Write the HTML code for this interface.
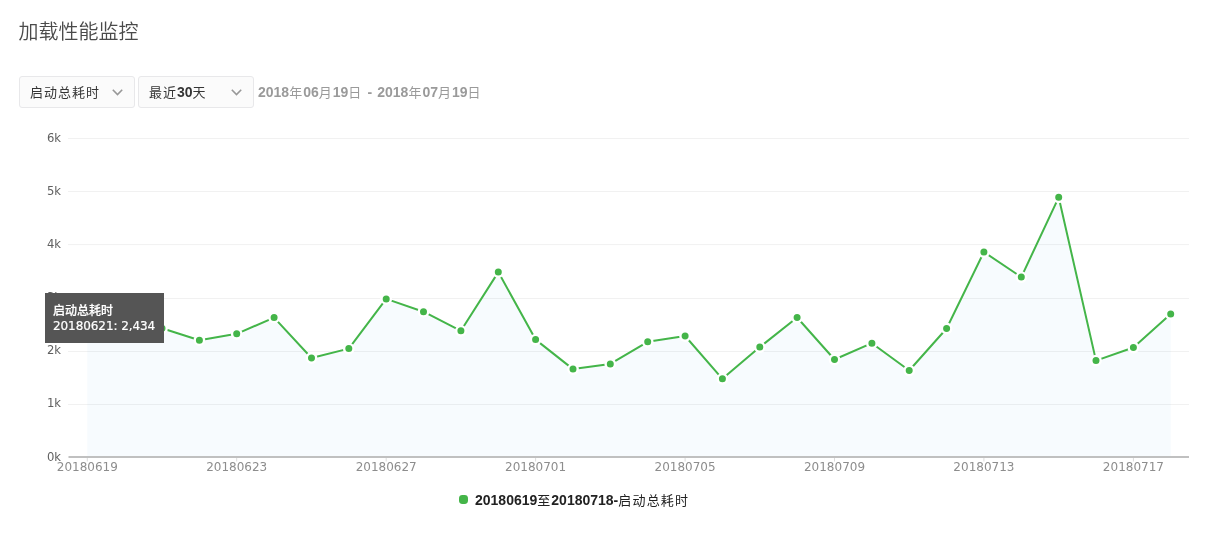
<!DOCTYPE html>
<html lang="zh-CN"><head><meta charset="utf-8"><title>加载性能监控</title>
<style>
html,body{margin:0;padding:0;background:#fff;}
body{width:1220px;height:544px;position:relative;overflow:hidden;font-family:"Liberation Sans","Noto Sans CJK SC",sans-serif;color:#353535;}
h2{position:absolute;left:18.5px;top:16.7px;letter-spacing:0.2px;margin:0;font-size:20px;line-height:30px;font-weight:350;color:#4a4a4a;letter-spacing:0;white-space:nowrap;}
.dd{position:absolute;top:76px;height:30px;width:113.5px;border:1px solid #e8e8ea;border-radius:3px;background:#fbfbfb;font-size:14px;line-height:30px;color:#353535;white-space:nowrap;}
.dd span{position:absolute;left:10px;top:0;}
.dd b{font-weight:700;}
.dd i{font-style:normal;font-size:13px;letter-spacing:1px;}
.dd svg{position:absolute;right:10.4px;top:12.2px;}
.date{position:absolute;left:258px;word-spacing:1.2px;top:77px;font-size:14px;line-height:30px;color:#9a9a9a;white-space:nowrap;}
.date b{font-weight:700;}
.date i,.legend i{font-style:normal;font-size:13px;letter-spacing:1px;}
svg text{font-family:"DejaVu Sans","Noto Sans CJK SC",sans-serif;}
.tip{position:absolute;left:45px;top:293px;width:119px;height:49.5px;background:#555;color:#fff;font-family:"DejaVu Sans","Noto Sans CJK SC",sans-serif;font-size:12px;line-height:17px;white-space:nowrap;}
.tip div{position:absolute;left:8px;-webkit-text-stroke:0.2px #fff;}
.legend{position:absolute;left:475px;top:490px;font-size:14px;line-height:20px;color:#222;white-space:nowrap;}
.legend b{font-weight:700;}
.ldot{position:absolute;left:459.4px;top:495.3px;width:8.8px;height:8.8px;border-radius:3.4px;background:#44b549;}
</style></head><body>
<h2>加载性能监控</h2>
<div class="dd" style="left:19px"><span><i>启动总耗时</i></span><svg width="11" height="7" viewBox="0 0 11 7"><path d="M0.8 0.8 L5.5 5.6 L10.2 0.8" fill="none" stroke="#989898" stroke-width="1.6"/></svg></div>
<div class="dd" style="left:138px"><span><i>最近</i><b>30</b><i>天</i></span><svg width="11" height="7" viewBox="0 0 11 7"><path d="M0.8 0.8 L5.5 5.6 L10.2 0.8" fill="none" stroke="#989898" stroke-width="1.6"/></svg></div>
<div class="date"><b>2018</b><i>年</i><b>06</b><i>月</i><b>19</b><i>日</i> <b>-</b> <b>2018</b><i>年</i><b>07</b><i>月</i><b>19</b><i>日</i></div>
<svg width="1220" height="544" viewBox="0 0 1220 544" style="position:absolute;left:0;top:0">
<g stroke="#f1f1f1" stroke-width="1"><line x1="68" x2="1189" y1="138.5" y2="138.5"/><line x1="68" x2="1189" y1="191.5" y2="191.5"/><line x1="68" x2="1189" y1="244.6" y2="244.6"/><line x1="68" x2="1189" y1="298.5" y2="298.5"/><line x1="68" x2="1189" y1="351.5" y2="351.5"/><line x1="68" x2="1189" y1="404.5" y2="404.5"/></g>
<path d="M87.3,457 L87.3,322 L124.7,318 L162.0,328.3 L199.4,340.2 L236.7,333.8 L274.1,317.6 L311.5,358 L348.8,348.6 L386.2,298.9 L423.5,311.7 L460.9,330.8 L498.3,272.1 L535.6,339.6 L573.0,369.1 L610.3,363.9 L647.7,341.8 L685.1,336.0 L722.4,378.8 L759.8,347.1 L797.1,317.5 L834.5,359.5 L871.9,343.2 L909.2,370.5 L946.6,328.5 L983.9,252.0 L1021.3,277.1 L1058.7,197.3 L1096.0,360.6 L1133.4,347.5 L1170.7,314.1 L1170.7,457 Z" fill="#7cb5ec" fill-opacity="0.06"/>
<rect x="68.5" y="456" width="1120.5" height="2" fill="#c0c0c0"/>
<g stroke="#dcdcdc" stroke-width="1"><line x1="87.3" x2="87.3" y1="458" y2="461.5"/><line x1="236.7" x2="236.7" y1="458" y2="461.5"/><line x1="386.2" x2="386.2" y1="458" y2="461.5"/><line x1="535.6" x2="535.6" y1="458" y2="461.5"/><line x1="685.1" x2="685.1" y1="458" y2="461.5"/><line x1="834.5" x2="834.5" y1="458" y2="461.5"/><line x1="983.9" x2="983.9" y1="458" y2="461.5"/><line x1="1133.4" x2="1133.4" y1="458" y2="461.5"/></g>
<polyline points="87.3,322 124.7,318 162.0,328.3 199.4,340.2 236.7,333.8 274.1,317.6 311.5,358 348.8,348.6 386.2,298.9 423.5,311.7 460.9,330.8 498.3,272.1 535.6,339.6 573.0,369.1 610.3,363.9 647.7,341.8 685.1,336.0 722.4,378.8 759.8,347.1 797.1,317.5 834.5,359.5 871.9,343.2 909.2,370.5 946.6,328.5 983.9,252.0 1021.3,277.1 1058.7,197.3 1096.0,360.6 1133.4,347.5 1170.7,314.1" fill="none" stroke="#44b549" stroke-width="2" stroke-linejoin="round" stroke-linecap="round"/>
<g fill="#44b549" stroke="#fff" stroke-width="2.4"><circle cx="87.3" cy="322" r="4.7"/><circle cx="124.7" cy="318" r="4.7"/><circle cx="162.0" cy="328.3" r="4.7"/><circle cx="199.4" cy="340.2" r="4.7"/><circle cx="236.7" cy="333.8" r="4.7"/><circle cx="274.1" cy="317.6" r="4.7"/><circle cx="311.5" cy="358" r="4.7"/><circle cx="348.8" cy="348.6" r="4.7"/><circle cx="386.2" cy="298.9" r="4.7"/><circle cx="423.5" cy="311.7" r="4.7"/><circle cx="460.9" cy="330.8" r="4.7"/><circle cx="498.3" cy="272.1" r="4.7"/><circle cx="535.6" cy="339.6" r="4.7"/><circle cx="573.0" cy="369.1" r="4.7"/><circle cx="610.3" cy="363.9" r="4.7"/><circle cx="647.7" cy="341.8" r="4.7"/><circle cx="685.1" cy="336.0" r="4.7"/><circle cx="722.4" cy="378.8" r="4.7"/><circle cx="759.8" cy="347.1" r="4.7"/><circle cx="797.1" cy="317.5" r="4.7"/><circle cx="834.5" cy="359.5" r="4.7"/><circle cx="871.9" cy="343.2" r="4.7"/><circle cx="909.2" cy="370.5" r="4.7"/><circle cx="946.6" cy="328.5" r="4.7"/><circle cx="983.9" cy="252.0" r="4.7"/><circle cx="1021.3" cy="277.1" r="4.7"/><circle cx="1058.7" cy="197.3" r="4.7"/><circle cx="1096.0" cy="360.6" r="4.7"/><circle cx="1133.4" cy="347.5" r="4.7"/><circle cx="1170.7" cy="314.1" r="4.7"/></g>
<g font-size="11.6" fill="#606060" text-anchor="end"><text x="61" y="141.9">6k</text><text x="61" y="194.9">5k</text><text x="61" y="248">4k</text><text x="61" y="301.3">3k</text><text x="61" y="354.2">2k</text><text x="61" y="407.1">1k</text><text x="61" y="460.9">0k</text></g>
<g font-size="12" fill="#8d8d8d" text-anchor="middle"><text x="87.3" y="471">20180619</text><text x="236.7" y="471">20180623</text><text x="386.2" y="471">20180627</text><text x="535.6" y="471">20180701</text><text x="685.1" y="471">20180705</text><text x="834.5" y="471">20180709</text><text x="983.9" y="471">20180713</text><text x="1133.4" y="471">20180717</text></g>
</svg>
<div class="tip"><div style="top:9.8px;font-weight:500">启动总耗时</div><div style="top:25.3px;letter-spacing:-0.08px">20180621: 2,434</div></div>
<div class="ldot"></div>
<div class="legend"><b>20180619</b><i>至</i><b>20180718-</b><i style="letter-spacing:1.2px">启动总耗时</i></div>
</body></html>
